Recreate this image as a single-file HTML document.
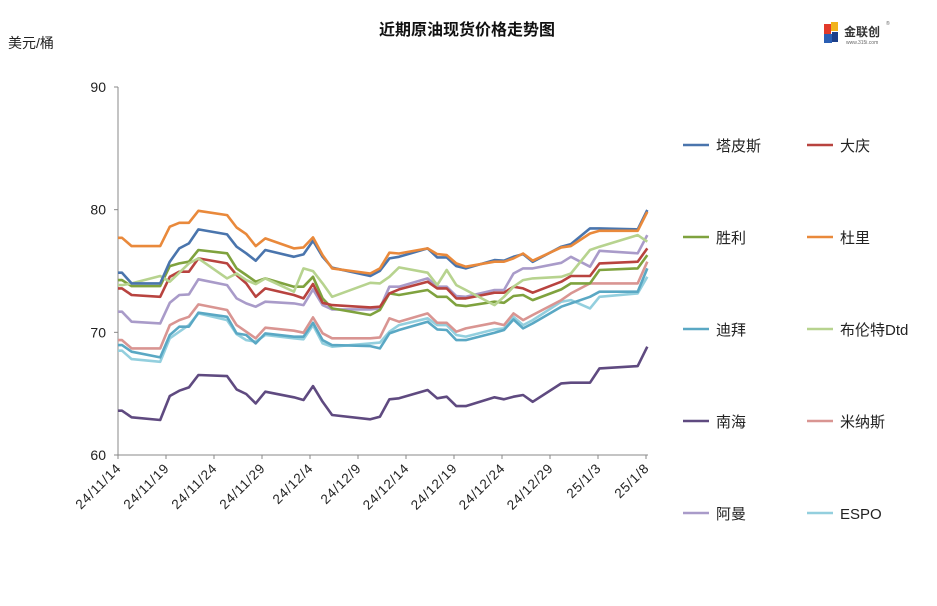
<!DOCTYPE html>
<html><head><meta charset="utf-8">
<style>
html,body{margin:0;padding:0;background:#fff;}
body{width:937px;height:601px;overflow:hidden;font-family:"Liberation Sans","Noto Sans CJK SC",sans-serif;}
svg text{font-family:"Liberation Sans","Noto Sans CJK SC",sans-serif;}
</style></head>
<body>
<svg id="chart" width="937" height="601" xmlns="http://www.w3.org/2000/svg">
  <text x="467" y="35" text-anchor="middle" font-size="16" font-weight="bold" fill="#111">近期原油现货价格走势图</text>
  <text x="8" y="48" font-size="14" fill="#222">美元/桶</text>
  <g>
    <rect x="824" y="24" width="7" height="10" fill="#e23a2a"/>
    <rect x="831" y="22" width="7" height="9" fill="#f1b31c"/>
    <rect x="824" y="34" width="8" height="9" fill="#2b5fb4"/>
    <rect x="832" y="32" width="6" height="10" fill="#1c3f8a"/>
    <text x="844" y="36" font-size="12" font-weight="bold" fill="#333">金联创</text>
    <text x="846" y="44" font-size="5" fill="#666">www.315i.com</text>
    <text x="886" y="25" font-size="5" fill="#666">®</text>
  </g>
  <g id="axes"></g>
  <g id="series"></g>
  <g id="legend"></g>
</svg>
<script>
const dayOffsets=[-1,0,1,4,5,6,7,8,11,12,13,14,15,18,19,20,21,22,26,27,28,29,32,33,34,35,36,39,40,41,42,43,46,47,49,50,54,55];
const tapis=[74.86,74.86,73.99,73.99,75.76,76.84,77.25,78.39,77.98,76.98,76.44,75.84,76.71,76.16,76.35,77.47,76.16,75.27,74.59,75.02,76.03,76.16,76.84,76.11,76.11,75.40,75.21,75.89,75.84,76.16,76.38,75.75,76.98,77.19,78.47,78.47,78.39,79.97];
const daqing=[73.58,73.58,73.04,72.90,74.53,74.94,74.94,76.03,75.62,74.67,73.99,72.90,73.58,73.04,72.77,73.94,72.41,72.22,72.03,72.09,73.17,73.50,74.13,73.58,73.58,72.77,72.77,73.23,73.23,73.72,73.58,73.23,74.13,74.59,74.59,75.62,75.76,76.84];
const shengli=[74.26,74.26,73.77,73.77,75.40,75.62,75.76,76.71,76.44,75.21,74.67,74.13,74.40,73.72,73.72,74.53,72.77,71.95,71.41,71.82,73.17,73.04,73.45,72.90,72.90,72.22,72.14,72.50,72.41,72.96,73.04,72.63,73.50,73.99,73.99,75.08,75.21,76.30];
const duri=[77.71,77.71,77.03,77.03,78.61,78.93,78.93,79.91,79.56,78.55,78.01,77.03,77.66,76.84,76.92,77.74,76.30,75.21,74.80,75.21,76.49,76.43,76.84,76.38,76.30,75.62,75.35,75.76,75.76,76.03,76.43,75.84,76.92,77.03,78.06,78.28,78.28,79.83];
const dubai=[68.96,68.96,68.42,67.96,69.78,70.46,70.46,71.60,71.27,69.91,69.78,69.10,69.91,69.64,69.64,70.78,69.37,68.96,68.88,68.69,69.91,70.19,70.87,70.24,70.19,69.37,69.37,69.97,70.19,71.05,70.32,70.73,72.09,72.36,72.90,73.31,73.31,75.21];
const brent=[73.85,73.85,73.99,74.59,74.13,74.86,75.62,76.03,74.40,74.80,74.26,73.93,74.40,73.31,75.21,74.99,73.99,72.90,74.04,73.99,74.53,75.29,74.86,73.85,75.08,73.85,73.45,72.22,72.90,73.72,74.26,74.40,74.53,74.80,76.71,76.98,77.93,77.39];
const nanhai=[63.61,63.61,63.07,62.85,64.81,65.24,65.51,66.52,66.43,65.35,64.97,64.21,65.16,64.70,64.48,65.62,64.34,63.26,62.91,63.12,64.54,64.62,65.30,64.62,64.75,63.99,63.99,64.70,64.54,64.75,64.89,64.34,65.84,65.89,65.89,67.06,67.25,68.83];
const minas=[69.37,69.37,68.69,68.69,70.59,71.00,71.27,72.28,71.82,70.59,70.05,69.51,70.38,70.13,69.97,71.22,69.92,69.51,69.51,69.59,71.14,70.87,71.54,70.78,70.78,70.05,70.32,70.78,70.59,71.54,71.00,71.41,72.63,73.17,73.99,73.99,73.99,75.76];
const oman=[71.68,71.68,70.87,70.73,72.41,73.04,73.09,74.32,73.85,72.77,72.36,72.09,72.50,72.36,72.22,73.50,72.22,71.87,71.87,71.95,73.72,73.72,74.40,73.72,73.72,72.96,72.90,73.45,73.45,74.80,75.21,75.21,75.67,76.16,75.35,76.65,76.44,77.93];
const espo=[68.50,68.50,67.82,67.60,69.51,70.05,70.59,71.54,71.00,69.86,69.37,69.24,69.78,69.51,69.43,70.59,69.10,68.83,69.10,69.16,70.05,70.59,71.14,70.59,70.59,69.78,69.65,70.24,70.32,71.27,70.59,71.00,72.50,72.63,71.95,72.90,73.17,74.53];
const yTicks=[60,70,80,90];
const xTickLabels=["24/11/14","24/11/19","24/11/24","24/11/29","24/12/4","24/12/9","24/12/14","24/12/19","24/12/24","24/12/29","25/1/3","25/1/8"];
const seriesNames=["塔皮斯","大庆","胜利","杜里","迪拜","布伦特Dtd","南海","米纳斯","阿曼","ESPO"];
const seriesKeys=["tapis","daqing","shengli","duri","dubai","brent","nanhai","minas","oman","espo"];

const NS="http://www.w3.org/2000/svg";
const L=118,R=648,T=87,B=455,YMIN=60,YMAX=90;
function yPos(v){return B-(v-YMIN)/(YMAX-YMIN)*(B-T);}
function xPos(d){return 122+d*9.55;}
function tickX(i){return 118+i*48;}
function mk(tag,attrs,parent){const e=document.createElementNS(NS,tag);for(const k in attrs)e.setAttribute(k,attrs[k]);parent.appendChild(e);return e;}

const axes=document.getElementById('axes');
const yAxis=mk('line',{x1:L,y1:T,x2:L,y2:B,stroke:'#888','stroke-width':1},axes);


const xAxis=mk('line',{x1:L,y1:B,x2:R,y2:B,stroke:'#888','stroke-width':1},axes);


yTicks.forEach(v=>{
  const y=yPos(v);
  mk('line',{x1:L-4,y1:y,x2:L,y2:y,stroke:'#888'},axes);
  const t=mk('text',{x:L-12,y:y+5,'text-anchor':'end','font-size':14,fill:'#222'},axes);
  t.textContent=v;
  
  
});
xTickLabels.forEach((lab,i)=>{
  const x=tickX(i);
  mk('line',{x1:x,y1:B,x2:x,y2:B+4,stroke:'#888'},axes);
  const ax=x+4,ay=B+14;
  const t=mk('text',{x:ax,y:ay,'text-anchor':'end','font-size':13.5,'letter-spacing':'0.8',fill:'#222',transform:`rotate(-45 ${ax} ${ay})`},axes);
  t.textContent=lab;
  
  
});

const defs=mk('defs',{},document.getElementById('chart'));
const cp=mk('clipPath',{id:'plotclip'},defs);
mk('rect',{x:L,y:T-10,width:R-L+10,height:B-T+10},cp);

const colors={tapis:'#4a75ad',daqing:'#b8433f',shengli:'#7fa23e',duri:'#e9893b',dubai:'#5aa8c4',brent:'#b7d38f',nanhai:'#5f4a80',minas:'#d99592',oman:'#a99bc9',espo:'#93cfde'};
const data={tapis,daqing,shengli,duri,dubai,brent,nanhai,minas,oman,espo};
const order=['nanhai','espo','dubai','minas','oman','shengli','daqing','brent','tapis','duri'];
const sg=document.getElementById('series');
order.forEach(k=>{
  const pts=data[k].map((v,i)=>xPos(dayOffsets[i]).toFixed(1)+','+yPos(v).toFixed(1)).join(' ');
  const p=mk('polyline',{points:pts,fill:'none',stroke:colors[k],'stroke-width':2.6,'stroke-linejoin':'round','clip-path':'url(#plotclip)'},sg);
  
  
});

const lg=document.getElementById('legend');
seriesKeys.forEach((k,i)=>{
  const col=i%2,row=Math.floor(i/2);
  const x=683+col*124,y=145+row*92;
  const g=mk('g',{},lg);
  
  
  mk('line',{x1:x,y1:y,x2:x+26,y2:y,stroke:colors[k],'stroke-width':2.6},g);
  const t=mk('text',{x:x+33,y:y+6,'font-size':15,fill:'#222'},g);
  t.textContent=seriesNames[i];
});
</script>
</body></html>
